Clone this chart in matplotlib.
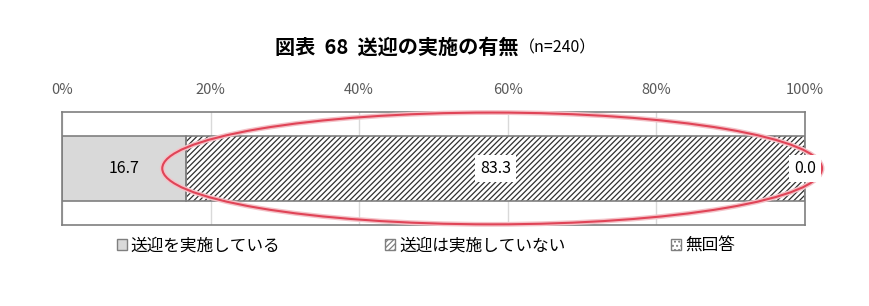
import matplotlib
matplotlib.use('Agg')
import matplotlib.pyplot as plt
from matplotlib.patches import Ellipse, Patch

plt.rcParams['font.family'] = ['Noto Sans CJK JP', 'DejaVu Sans']
plt.rcParams['hatch.linewidth'] = 0.9

categories = ['送迎を実施している', '送迎は実施していない', '無回答']
values = [16.7, 83.3, 0.0]
ticks = [0, 20, 40, 60, 80, 100]
tick_labels = ['0%', '20%', '40%', '60%', '80%', '100%']

fig = plt.figure(figsize=(8.69, 3.06), dpi=100)
ax = fig.add_axes([0.0713, 0.265, 0.855, 0.369])

faces = ['#d9d9d9', 'white', 'white']
hatches = [None, '//////', '....']
edge = '#7f7f7f'
hatch_col = '#303030'

left = 0
for v, fc, h in zip(values, faces, hatches):
    # fill + hatch (hatch takes the edge colour), then gray outline on top
    ax.barh(0, v, left=left, height=0.575, color=fc, hatch=h,
            edgecolor=hatch_col, linewidth=0, zorder=2)
    ax.barh(0, v, left=left, height=0.575, fill=False,
            edgecolor=edge, linewidth=1.2, zorder=3)
    left += v

# value labels
left = 0
for i, v in enumerate(values):
    xc = left + v / 2
    if i == 0:
        ax.text(xc, 0, '{:.1f}'.format(v), ha='center', va='center', fontsize=11.5, zorder=8)
    else:
        ax.text(xc, 0, '{:.1f}'.format(v), ha='center', va='center', fontsize=11.5, zorder=8,
                bbox=dict(facecolor='white', edgecolor='none', pad=3.5))
    left += v

ax.set_xlim(0, 100)
ax.set_ylim(-0.5, 0.5)
ax.set_yticks([])
ax.xaxis.tick_top()
ax.set_xticks(ticks)
ax.set_xticklabels(tick_labels, fontsize=10.5, color='#595959')
ax.tick_params(axis='x', length=0, pad=11)
ax.grid(axis='x', color='#d9d9d9', linewidth=1, zorder=0)
for s in ax.spines.values():
    s.set_color(edge)
    s.set_linewidth(1.2)

# red ellipse highlight
ell = Ellipse((57.9, 0.5), 88.8, 0.99, transform=ax.get_xaxis_transform(),
              fill=False, edgecolor='#f4c2c8', linewidth=3.5, clip_on=False, zorder=6)
ax.add_patch(ell)
ell2 = Ellipse((57.9, 0.5), 88.8, 0.99, transform=ax.get_xaxis_transform(),
               fill=False, edgecolor='#e04457', linewidth=1.5, clip_on=False, zorder=7)
ax.add_patch(ell2)

# title
fig.text(0.597, 0.845, '図表  68  送迎の実施の有無', ha='right', va='center',
         fontsize=14.5, fontweight='bold')
fig.text(0.597, 0.843, '（n=240）', ha='left', va='center', fontsize=11.5)

handles = [Patch(facecolor=fc, edgecolor=edge, hatch=h) for fc, h in zip(faces, hatches)]
fig.legend(handles, categories, loc='center', bbox_to_anchor=(0.49, 0.197), ncol=3,
           frameon=False, fontsize=12, handlelength=0.6, handleheight=0.6,
           handletextpad=0.25, columnspacing=6.3)

fig.savefig('out.png', dpi=100)
